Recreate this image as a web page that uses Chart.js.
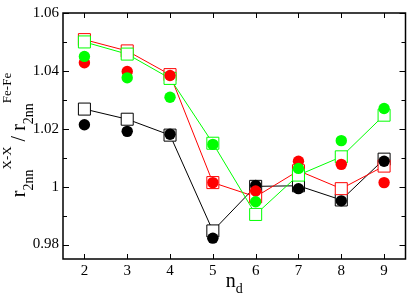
<!DOCTYPE html>
<html>
<head>
<meta charset="utf-8">
<script src="https://cdn.jsdelivr.net/npm/chart.js@4"></script>
<style>
  html, body { margin: 0; padding: 0; background: #fff; }
  #wrap { width: 415px; height: 296px; }
</style>
</head>
<body>
<div id="wrap"><canvas id="chart"></canvas></div>
<script>
// values
const nd = [2, 3, 4, 5, 6, 7, 8, 9];

const blackSquares = [1.0268, 1.0233, 1.0178, 0.9847, 1.0001, 1.0003, 0.9954, 1.0095];
const redSquares   = [1.0508, 1.0469, 1.0387, 1.0014, 0.9965, 1.0055, 0.9993, 1.0071];
const greenSquares = [1.0500, 1.0458, 1.0374, 1.0150, 0.9904, 1.0040, 1.0103, 1.0247];

const blackCircles = [1.0214, 1.0191, 1.0181, 0.9822, 1.0004, 0.9993, 0.9951, 1.0088];
const redCircles   = [1.0428, 1.0398, 1.0384, 1.0014, 0.9985, 1.0088, 1.0077, 1.0014];
const greenCircles = [1.0450, 1.0376, 1.0309, 1.0146, 0.9948, 1.0063, 1.0159, 1.0270];

const xTicks = [2, 3, 4, 5, 6, 7, 8, 9];
const yTicks = [0.98, 1, 1.02, 1.04, 1.06];
const yTickLabels = ['0.98', '1', '1.02', '1.04', '1.06'];
const yMinorTicks = [0.99, 1.01, 1.03, 1.05];

const SERIF = '"Liberation Serif", "DejaVu Serif", serif';

function toPoints(vals) {
    return nd.map((x, i) => ({ x: x, y: vals[i] }));
}

// higher order is painted first (underneath)
function squareSet(vals, color, order) {
    return {
        data: toPoints(vals),
        order: order,
        showLine: true,
        borderColor: color,
        borderWidth: 1,
        pointStyle: 'rect',
        pointRadius: 8.5,
        pointBorderColor: color,
        pointBorderWidth: 1,
        pointBackgroundColor: '#ffffff'
    };
}

function circleSet(vals, color, order) {
    return {
        data: toPoints(vals),
        order: order,
        showLine: false,
        pointStyle: 'circle',
        pointRadius: 5.7,
        pointBorderWidth: 0,
        pointBackgroundColor: color,
        pointBorderColor: color
    };
}

// draw a run of text pieces with their own size and baseline shift
function drawRich(ctx, parts, cx) {
    let widths = parts.map(p => {
        ctx.font = p.size + 'px ' + SERIF;
        return ctx.measureText(p.text).width;
    });
    let total = widths.reduce((a, b) => a + b, 0);
    let pos = cx - total / 2;
    parts.forEach((p, i) => {
        ctx.font = p.size + 'px ' + SERIF;
        ctx.fillText(p.text, pos, p.dy);
        pos += widths[i];
    });
}

const framePlugin = {
    id: 'frame',
    afterDraw(chart) {
        const ctx = chart.ctx;
        const a = chart.chartArea;
        const xs = chart.scales.x;
        const ys = chart.scales.y;
        ctx.save();
        ctx.strokeStyle = '#000';
        ctx.lineWidth = 1.5;
        ctx.strokeRect(a.left, a.top, a.right - a.left, a.bottom - a.top);

        ctx.lineWidth = 1;
        ctx.beginPath();
        xTicks.forEach(v => {
            const px = Math.round(xs.getPixelForValue(v)) + 0.5;
            ctx.moveTo(px, a.bottom); ctx.lineTo(px, a.bottom - 5);
            ctx.moveTo(px, a.top); ctx.lineTo(px, a.top + 5);
        });
        yTicks.forEach(v => {
            const py = Math.round(ys.getPixelForValue(v)) + 0.5;
            ctx.moveTo(a.left, py); ctx.lineTo(a.left + 6, py);
            ctx.moveTo(a.right, py); ctx.lineTo(a.right - 6, py);
        });
        yMinorTicks.forEach(v => {
            const py = Math.round(ys.getPixelForValue(v)) + 0.5;
            ctx.moveTo(a.left, py); ctx.lineTo(a.left + 4, py);
            ctx.moveTo(a.right, py); ctx.lineTo(a.right - 4, py);
        });
        ctx.stroke();

        // axis titles
        ctx.fillStyle = '#000';
        ctx.textBaseline = 'alphabetic';
        ctx.textAlign = 'left';

        ctx.save();
        ctx.translate(0, 287);
        drawRich(ctx, [
            { text: 'n', size: 20, dy: 0 },
            { text: 'd', size: 14, dy: 6 }
        ], (a.left + a.right) / 2);
        ctx.restore();

        ctx.save();
        ctx.translate(25, 0);
        ctx.rotate(-Math.PI / 2);
        drawRich(ctx, [
            { text: 'r', size: 20, dy: 0 },
            { text: '2nn', size: 14, dy: 8 },
            { text: 'X-X', size: 13, dy: -14 },
            { text: ' / ', size: 20, dy: 0 },
            { text: 'r', size: 20, dy: 0 },
            { text: '2nn', size: 14, dy: 8 },
            { text: 'Fe-Fe', size: 13, dy: -14 }
        ], -135);
        ctx.restore();

        ctx.restore();
    }
};

new Chart(document.getElementById('chart').getContext('2d'), {
    type: 'scatter',
    data: {
        datasets: [
            squareSet(blackSquares, '#000000', 6),
            squareSet(redSquares, '#ff0000', 5),
            squareSet(greenSquares, '#00ff00', 4),
            circleSet(blackCircles, '#000000', 3),
            circleSet(redCircles, '#ff0000', 2),
            circleSet(greenCircles, '#00ff00', 1)
        ]
    },
    options: {
        responsive: true,
        maintainAspectRatio: false,
        animation: false,
        layout: { padding: { top: 6, right: 2, left: 0, bottom: 0 } },
        plugins: {
            legend: { display: false },
            tooltip: { enabled: false }
        },
        scales: {
            x: {
                type: 'linear',
                min: 1.5,
                max: 9.5,
                grid: { display: false, drawTicks: false },
                border: { display: false },
                afterBuildTicks: s => { s.ticks = xTicks.map(v => ({ value: v })); },
                afterFit: s => { s.height = 37; },
                ticks: {
                    padding: 3,
                    color: '#000',
                    font: { family: SERIF, size: 15 },
                    callback: v => String(v)
                }
            },
            y: {
                type: 'linear',
                min: 0.975,
                max: 1.06,
                grid: { display: false, drawTicks: false },
                border: { display: false },
                afterBuildTicks: s => { s.ticks = yTicks.map(v => ({ value: v })); },
                afterFit: s => { s.width = 63; },
                ticks: {
                    padding: 4,
                    color: '#000',
                    font: { family: SERIF, size: 15 },
                    callback: (v, i) => yTickLabels[i]
                }
            }
        }
    },
    plugins: [framePlugin]
});
</script>
</body>
</html>
